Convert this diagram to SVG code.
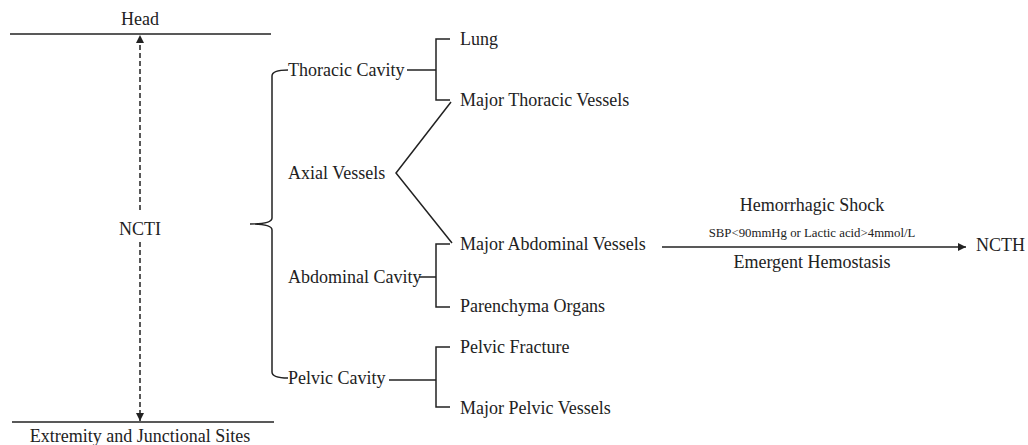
<svg xmlns="http://www.w3.org/2000/svg" width="1028" height="445" viewBox="0 0 1028 445">
<style>
text{font-family:"Liberation Serif","Times New Roman",serif;font-size:18px;fill:#222;}
.s{font-size:12.8px;}
.ln{stroke:#222;stroke-width:1.5;fill:none;}
.d{stroke:#222;stroke-width:1.5;fill:none;stroke-dasharray:5,3;}
</style>
<defs>
<marker id="ah" viewBox="0 0 10 10" refX="10" refY="5" markerWidth="8" markerHeight="8" orient="auto" markerUnits="userSpaceOnUse">
<path d="M0,0 L10,5 L0,10 z" fill="#222"/>
</marker>
</defs>
<rect width="1028" height="445" fill="#fff"/>
<g id="connectors">
<line class="ln" x1="10" y1="34" x2="271" y2="34"/>
<line class="ln" x1="12" y1="422" x2="274" y2="422"/>
<line class="d" x1="140" y1="210" x2="140" y2="35" marker-end="url(#ah)"/>
<line class="d" x1="140" y1="242" x2="140" y2="421" marker-end="url(#ah)"/>
<path class="ln" d="M288,70 Q272,70 272,76 L272,218 Q272,224 250,224 Q272,224 272,230 L272,372 Q272,378 288,378"/>
<line class="ln" x1="407" y1="70" x2="436" y2="70"/>
<path class="ln" d="M450,39 L436,39 L436,100 L450,100"/>
<path class="ln" d="M451,102 L396,173 L452,243"/>
<line class="ln" x1="419" y1="277" x2="436" y2="277"/>
<path class="ln" d="M450,244 L436,244 L436,307 L450,307"/>
<line class="ln" x1="389" y1="380" x2="436" y2="380"/>
<path class="ln" d="M450,347 L436,347 L436,407 L450,407"/>
<line class="ln" x1="662" y1="247" x2="966" y2="247" marker-end="url(#ah)"/>
</g>
<g id="head"><text x="140" y="25" text-anchor="middle">Head</text></g>
<g id="extremity"><text x="140" y="442" text-anchor="middle">Extremity and Junctional Sites</text></g>
<g id="ncti"><text x="140" y="235" text-anchor="middle">NCTI</text></g>
<g id="thoracic"><text x="288" y="76">Thoracic Cavity</text></g>
<g id="axial"><text x="288" y="179">Axial Vessels</text></g>
<g id="abdominal"><text x="288" y="283">Abdominal Cavity</text></g>
<g id="pelvic"><text x="288" y="384">Pelvic Cavity</text></g>
<g id="lung"><text x="460" y="45">Lung</text></g>
<g id="thoracic-vessels"><text x="460" y="106">Major Thoracic Vessels</text></g>
<g id="abdominal-vessels"><text x="460" y="250">Major Abdominal Vessels</text></g>
<g id="parenchyma"><text x="460" y="312">Parenchyma Organs</text></g>
<g id="pelvic-fracture"><text x="460" y="353">Pelvic Fracture</text></g>
<g id="pelvic-vessels"><text x="460" y="414">Major Pelvic Vessels</text></g>
<g id="shock"><text x="812" y="211" text-anchor="middle">Hemorrhagic Shock</text></g>
<g id="sbp"><text class="s" x="812" y="237" text-anchor="middle">SBP&lt;90mmHg or Lactic acid&gt;4mmol/L</text></g>
<g id="hemostasis"><text x="812" y="268" text-anchor="middle">Emergent Hemostasis</text></g>
<g id="ncth"><text x="976" y="251" font-size="17.5">NCTH</text></g>
</svg>
